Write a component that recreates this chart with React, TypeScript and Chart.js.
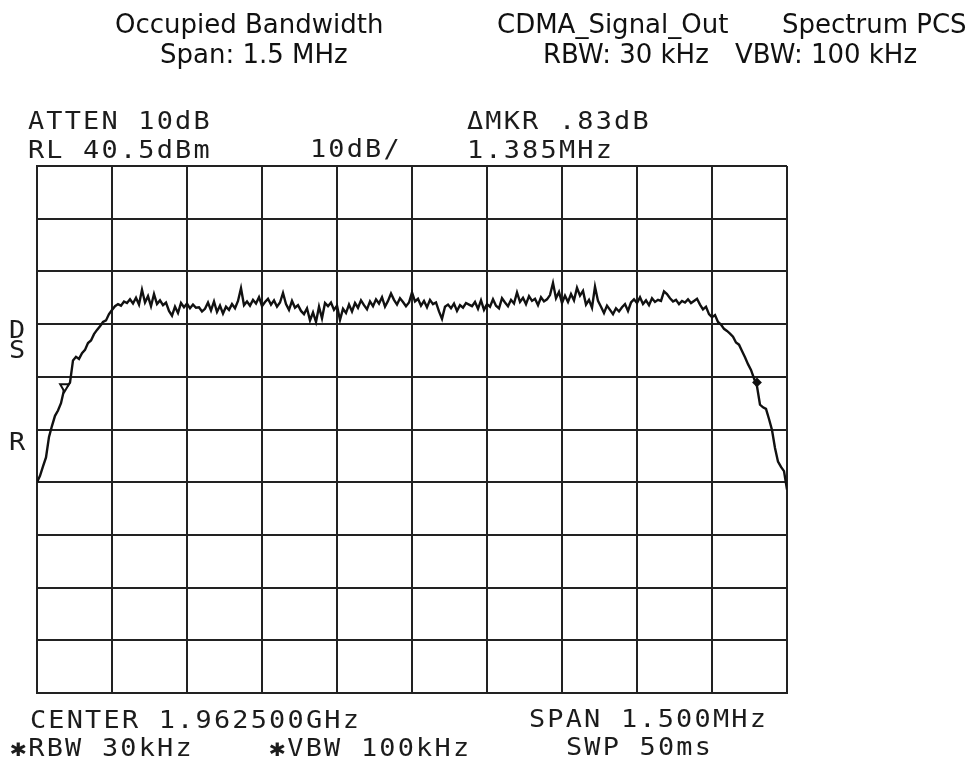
import React, { useEffect, useRef } from "react";
import { Chart, registerables } from "chart.js";

Chart.register(...registerables);

// Sweep: 251 trace points, 6 kHz apart, from -750 kHz to +750 kHz about centre
const sweepStartKHz = -750;
const sweepStepKHz = 6;
const sweepLevelsDbm = [
  -19.5, -18.3, -16.5, -14.8, -10.9, -8.8, -6.9, -5.9, -4.5, -2.0,
  -1.4, -0.6, 3.6, 4.3, 3.9, 5.0, 5.6, 6.9, 7.4, 8.6,
  9.4, 10.1, 10.9, 11.2, 12.4, 13.2, 13.9, 14.3, 14.0, 14.8,
  14.5, 15.2, 14.4, 15.5, 14.2, 17.0, 14.6, 15.8, 13.9, 16.2,
  14.3, 15.0, 14.1, 14.6, 13.0, 12.1, 13.8, 12.6, 14.5, 13.7,
  14.4, 13.5, 14.2, 13.6, 13.7, 12.9, 13.4, 14.6, 13.1, 14.8,
  12.8, 14.0, 12.5, 13.8, 13.2, 14.3, 13.5, 14.9, 17.3, 14.1,
  14.8, 14.0, 15.1, 14.4, 15.6, 13.9, 14.7, 15.3, 14.2, 15.0,
  13.8, 14.6, 16.4, 14.3, 13.2, 14.9, 13.6, 14.1, 13.0, 12.4,
  13.5, 11.2, 12.7, 10.9, 13.8, 11.6, 14.5, 13.9, 14.6, 13.2,
  14.0, 11.3, 13.4, 12.6, 14.2, 12.9, 14.5, 13.6, 15.0, 14.1,
  13.3, 14.8, 13.9, 15.2, 14.4, 15.6, 13.8, 14.9, 16.3, 15.1,
  14.2, 15.4, 14.7, 13.9, 14.6, 16.5, 14.8, 15.3, 14.0, 14.9,
  13.7, 15.1, 14.3, 14.6, 12.9, 11.5, 13.8, 14.2, 13.5, 14.4,
  13.0, 14.1, 13.6, 14.5, 14.2, 13.9, 14.7, 13.4, 15.0, 13.2,
  14.3, 13.8, 15.2, 14.0, 13.5, 15.4, 14.6, 13.9, 15.1, 14.4,
  16.5, 14.7, 15.5, 14.3, 15.8, 14.9, 15.3, 14.1, 15.6, 14.8,
  15.2, 16.0, 18.3, 15.4, 16.6, 14.5, 15.9, 14.7, 16.2, 15.0,
  17.4, 15.9, 16.8, 14.2, 15.1, 13.6, 17.6, 14.9, 13.8, 12.6,
  14.0, 13.2, 12.4, 13.5, 12.9, 13.7, 14.3, 13.0, 14.6, 15.2,
  14.5, 15.6, 14.3, 15.0, 14.1, 15.4, 14.7, 15.1, 14.9, 16.7,
  16.2, 15.4, 14.8, 15.1, 14.3, 14.9, 14.6, 15.2, 14.5, 14.9,
  15.3, 14.2, 13.3, 13.8, 12.4, 11.8, 12.2, 10.9, 10.4, 9.6,
  9.2, 8.7, 8.1, 7.0, 6.6, 5.4, 4.2, 2.9, 1.8, 0.2,
  -1.3, -4.8, -5.3, -5.6, -7.5, -9.6, -13.0, -15.6, -16.6, -17.4,
  -20.9,
];

// Markers (reference marker and delta marker)
const markerFreqKHz = [-695, 690];
const markerLevelDbm = [-1.4, -0.57];

// Graticule: 10 dB/div from RL 40.5 dBm, 150 kHz/div
const yDivisionsDbm = [-59.5, -49.5, -39.5, -29.5, -19.5, -9.5, 0.5, 10.5, 20.5, 30.5, 40.5];
const xDivisionsKHz = [-750, -600, -450, -300, -150, 0, 150, 300, 450, 600, 750];

// Titles (proportional font)
const titleTexts = [
  { text: "Occupied Bandwidth", x: 115, y: 33 },
  { text: "Span: 1.5 MHz", x: 160, y: 63 },
  { text: "CDMA_Signal_Out", x: 497, y: 33 },
  { text: "Spectrum PCS", x: 782, y: 33 },
  { text: "RBW: 30 kHz", x: 543, y: 63 },
  { text: "VBW: 100 kHz", x: 735, y: 63 },
];

// Instrument annotation (plotter font)
const instrumentTexts = [
  { text: "ATTEN 10dB", x: 36, y: 129 },
  { text: "RL 40.5dBm", x: 36, y: 158 },
  { text: "10dB/", x: 318, y: 157 },
  { text: "\u0394MKR .83dB", x: 475, y: 129 },
  { text: "1.385MHz", x: 475, y: 158 },
  { text: "CENTER 1.962500GHz", x: 38, y: 728 },
  { text: "\u2731RBW 30kHz", x: 18, y: 756 },
  { text: "\u2731VBW 100kHz", x: 277, y: 756 },
  { text: "SPAN 1.500MHz", x: 537, y: 727 },
  { text: "SWP 50ms", x: 574, y: 755 },
  { text: "D", x: 17, y: 338 },
  { text: "S", x: 17, y: 358 },
  { text: "R", x: 17, y: 450 },
];

const PLOT_ADVANCE = 18.4;

function drawPlotterText(ctx: CanvasRenderingContext2D, s: string, x: number, y: number) {
  ctx.save();
  ctx.font = '24px "DejaVu Sans Mono"';
  ctx.fillStyle = "#1c1c1c";
  ctx.textAlign = "center";
  ctx.textBaseline = "alphabetic";
  for (let i = 0; i < s.length; i++) {
    const ch = s[i];
    if (ch === " ") continue;
    ctx.save();
    ctx.translate(x + i * PLOT_ADVANCE, y);
    ctx.scale(1.12, 1);
    ctx.fillText(ch, 0, 0);
    ctx.restore();
  }
  ctx.restore();
}

const textPlugin = {
  id: "annotText",
  afterDraw(chart: any) {
    const ctx: CanvasRenderingContext2D = chart.ctx;
    ctx.save();
    ctx.font = '26px "DejaVu Sans"';
    ctx.fillStyle = "#111";
    ctx.textAlign = "left";
    ctx.textBaseline = "alphabetic";
    for (const t of titleTexts) ctx.fillText(t.text, t.x, t.y);
    ctx.restore();
    for (const t of instrumentTexts) drawPlotterText(ctx, t.text, t.x, t.y);
  },
};

export default function App() {
  const ref = useRef<HTMLCanvasElement | null>(null);
  useEffect(() => {
    if (!ref.current) return;
    const trace = sweepLevelsDbm.map((v, i) => ({ x: sweepStartKHz + i * sweepStepKHz, y: v }));
    const markers = markerFreqKHz.map((f, i) => ({ x: f, y: markerLevelDbm[i] }));
    const gridColor = "#222";
    const chart = new Chart(ref.current, {
      type: "line",
      data: {
        datasets: [
          {
            data: markers,
            showLine: false,
            pointStyle: ["triangle", "rectRot"] as any,
            rotation: [180, 0] as any,
            pointRadius: [5, 3.5] as any,
            pointBorderWidth: 2,
            pointBorderColor: "#111",
            pointBackgroundColor: ["#ffffff", "#111"] as any,
            order: 0,
          },
          {
            data: trace,
            borderColor: "#111",
            borderWidth: 2.4,
            pointRadius: 0,
            tension: 0,
            fill: false,
            order: 1,
          },
        ],
      },
      options: {
        animation: false,
        responsive: false,
        devicePixelRatio: 1,
        layout: { padding: { left: 37, top: 166, right: 979 - 787, bottom: 762 - 693 } },
        plugins: { legend: { display: false }, tooltip: { enabled: false } },
        scales: {
          x: {
            type: "linear",
            min: -750,
            max: 750,
            afterBuildTicks: (s: any) => {
              s.ticks = xDivisionsKHz.map((v) => ({ value: v }));
            },
            afterFit: (s: any) => {
              s.height = 0;
            },
            ticks: { display: false },
            grid: { color: gridColor, lineWidth: 2, drawTicks: false },
            border: { display: true, color: gridColor, width: 2 },
          },
          y: {
            type: "linear",
            min: -59.5,
            max: 40.5,
            afterBuildTicks: (s: any) => {
              s.ticks = yDivisionsDbm.map((v) => ({ value: v }));
            },
            afterFit: (s: any) => {
              s.width = 0;
            },
            ticks: { display: false },
            grid: { color: gridColor, lineWidth: 2, drawTicks: false },
            border: { display: true, color: gridColor, width: 2 },
          },
        },
      },
      plugins: [textPlugin],
    } as any);
    return () => chart.destroy();
  }, []);
  return (
    <div style={{ position: "absolute", left: 0, top: 0, width: 979, height: 762, background: "#fff" }}>
      <canvas ref={ref} width={979} height={762} style={{ display: "block", width: 979, height: 762 }} />
    </div>
  );
}
